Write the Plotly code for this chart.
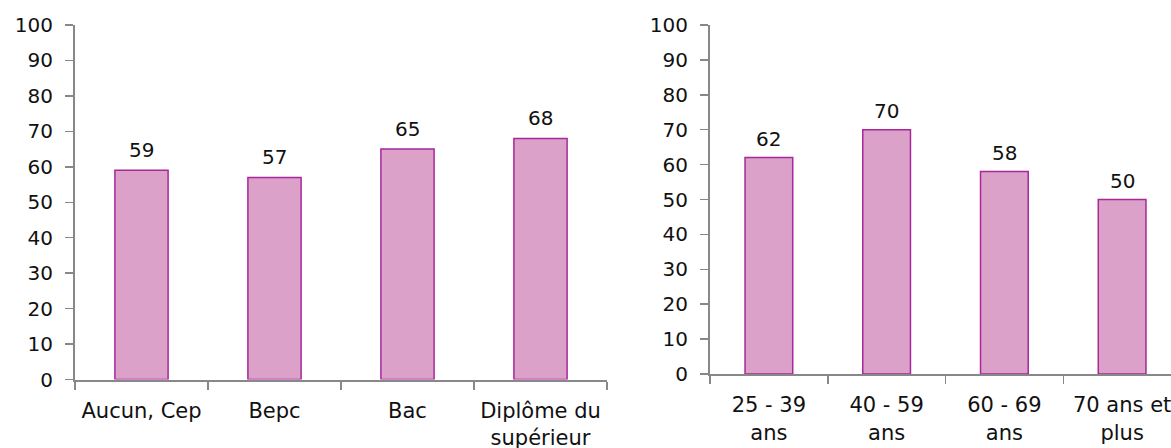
import plotly.graph_objects as go

edu_categories = ["Aucun, Cep", "Bepc", "Bac", "Diplôme du<br>supérieur"]
edu_values = [59, 57, 65, 68]
age_categories = ["25 - 39<br>ans", "40 - 59<br>ans", "60 - 69<br>ans", "70 ans et<br>plus"]
age_values = [62, 70, 58, 50]
y_ticks = list(range(0, 101, 10))

FILL = "#DBA1C8"
EDGE = "#A8279A"
AXIS = "#888888"
FONT = "DejaVu Sans"

W, H = 1171, 448


def px_x(p):
    return p / W


def px_y(p):
    return (H - p) / H


fig = go.Figure()
fig.add_trace(go.Bar(x=edu_categories, y=edu_values, width=0.4,
                     marker=dict(color=FILL, line=dict(color=EDGE, width=1.5)),
                     xaxis="x", yaxis="y", hoverinfo="skip"))
fig.add_trace(go.Bar(x=age_categories, y=age_values, width=0.405,
                     marker=dict(color=FILL, line=dict(color=EDGE, width=1.5)),
                     xaxis="x2", yaxis="y2", hoverinfo="skip"))

for cat, v in zip(edu_categories, edu_values):
    fig.add_annotation(x=cat, y=v, xref="x", yref="y", text=str(v), showarrow=False,
                       yanchor="bottom", yshift=6, font=dict(family=FONT, size=20, color="#111"))
for cat, v in zip(age_categories, age_values):
    fig.add_annotation(x=cat, y=v, xref="x2", yref="y2", text=str(v), showarrow=False,
                       yanchor="bottom", yshift=5, font=dict(family=FONT, size=20, color="#111"))

yax = dict(range=[0, 100], tickvals=y_ticks, showgrid=False, zeroline=False,
           showline=True, linecolor=AXIS, linewidth=2, ticks="outside", ticklen=8,
           tickcolor=AXIS, tickwidth=1.5, ticklabelstandoff=8, automargin=False,
           tickfont=dict(family=FONT, size=20, color="#111"), fixedrange=True)
xax = dict(type="category", showgrid=False, zeroline=False, showline=True,
           linecolor=AXIS, linewidth=2, ticks="outside", ticklen=8, tickcolor=AXIS,
           tickwidth=1.5, tickson="boundaries", automargin=False, fixedrange=True)

fig.update_layout(
    width=W, height=H, margin=dict(l=0, r=0, t=0, b=0),
    template="none", plot_bgcolor="white", paper_bgcolor="white",
    showlegend=False, bargap=0,
    xaxis=dict(xax, domain=[px_x(75), px_x(607)], range=[-0.5, 3.5], anchor="y",
               tickfont=dict(family=FONT, size=21, color="#111"), ticklabelstandoff=11),
    yaxis=dict(yax, domain=[px_y(379.5), px_y(25)], anchor="x"),
    xaxis2=dict(xax, domain=[px_x(710), 1.0], range=[-0.5, 3.5 - 10 / 117.7], anchor="y2",
                tickfont=dict(family=FONT, size=21, color="#111"), ticklabelstandoff=11),
    yaxis2=dict(yax, domain=[px_y(374), px_y(25)], anchor="x2"),
)

fig.write_html(
    "out.html",
    config={"displayModeBar": False, "staticPlot": True},
    post_script="document.body.style.margin='0';document.body.style.overflow='hidden';",
)
